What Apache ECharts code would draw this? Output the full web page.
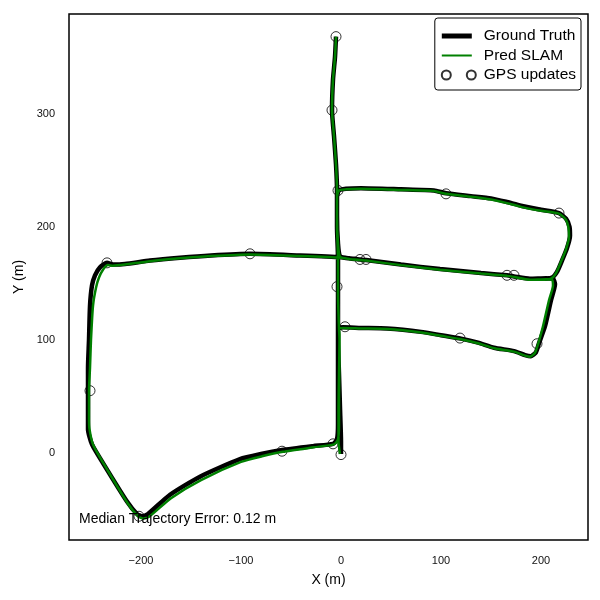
<!DOCTYPE html>
<html>
<head>
<meta charset="utf-8">
<script src="https://cdn.jsdelivr.net/npm/echarts@6/dist/echarts.min.js"></script>
<style>
  body { margin: 0; background: #fff; }
  #main { width: 600px; height: 600px; }
</style>
</head>
<body>
<div id="main"></div>
<script>
  // trajectory data, metres [x, y]
  var groundTruth = [
    [0,-1],[0,10],[-1,40],[-2,70],[-3,100],[-3,110],[-3,140],[-3,172],[-4,200],[-4,226],
    [-2,232],[5,233.5],[20,234],[60,233],[93,232],[105,229.5],[130,227],[150,225],[165,222],[180,218.5],
    [200,215],[218,212],[225,207],[228.5,200],[229,192],[226,181],[221,170],[216,160],[211,155],
    [200,154],[189,154],[173,156],[166,157],[140,159],[99,162.5],[60,166.5],[25,170.5],[19,171],[8,172],[0,173],
    [-41,174.5],[-91,176],[-130,174.5],[-161,172.5],[-191,170],[-216,167],[-228,166.5],[-234,168],[-241,164],
    [-246,157],[-249,148],[-251,130],[-252,100],[-253,75],[-253,55],[-253,30],[-253,21],[-249,7.5],[-238,-9],
    [-214,-43],[-204,-54],[-199,-56],[-193,-54],[-171,-37],[-141,-21],[-101,-5.5],[-80,-1],[-59,2.5],[-28,6],
    [-8,8],[-4,12],[-3,25],[-3,50],[-3,80],[-3,105],
    [-3,110],[2,111],[20,110.5],[46,110],[80,107],[100,104],[120,101],[137,97.5],[153,93],[173,90],
    [184,86.5],[190,85.5],[195,89],[198,97],[204,112],[210,135],[214,149],[212,154],[205,154.5],
    [189,154],[173,156],[166,157],[140,159],[99,162.5],[60,166.5],[25,170.5],[19,171],[8,172],[-1,174],
    [-3,185],[-4,210],[-4,232],[-5,255],[-7,280],[-9,303],[-8,330],[-6,350],[-5,368]
  ];

  var predSlam = [
    [-1,-1],[-2.5,10],[-2.5,40],[-2,70],[-1.5,100],[-2,110],[-3,140],[-3,172],[-4,200],[-4,226],
    [-2,232],[5,233],[20,233.5],[60,232.5],[93,231.5],[105,229],[130,226.5],[150,224],[165,221],[180,217.5],
    [200,214],[218,211.5],[225,206],[227.5,199],[228,191],[225,180],[220,169],[215,159],[210,154],
    [200,153],[189,153],[173,155.5],[166,156.5],[140,158.5],[99,162],[60,166],[25,170],[19,170.5],[8,171.5],[0,172.5],
    [-41,174],[-91,175.5],[-130,174],[-161,172],[-191,169.5],[-216,166.5],[-228,165.5],[-233,166],[-238,162],
    [-242,155],[-245,146],[-248,130],[-250,100],[-251,75],[-252,55],[-252,30],[-251.5,21],[-248,7.5],[-237,-10],
    [-213,-45],[-203,-56],[-198,-58],[-192,-56.5],[-170,-40],[-140,-24],[-100,-8],[-79,-3],[-58,1],[-27,5],
    [-7,7.5],[-3,12],[-2,25],[-2,50],[-1.5,80],[-1.5,105],
    [-2,110],[2,110.5],[20,110],[46,109.5],[80,106.5],[100,103.5],[120,100.5],[137,97],[153,92.5],[173,89.5],
    [184,86],[189,85],[194,88.5],[197,96],[202,112],[208,135],[212,148],[211,153],[205,153.5],
    [189,153],[173,155.5],[166,156.5],[140,158.5],[99,162],[60,166],[25,170],[19,170.5],[8,171.5],[-1,173.5],
    [-3,185],[-4,210],[-4,232],[-5,255],[-7,280],[-9,303],[-8,330],[-6,350],[-5,368]
  ];

  var gpsUpdates = [
    [-5,368],[-9,303],[-3,232],[105,229],[218,212],[19,171],[25,171],[166,157],[173,157],[-91,176],
    [-234,168],[-4,147],[4,111.5],[119,101.5],[196,96.5],[-251,55],[-8,8],[-59,1.5],[0,-1.5],[-202,-56]
  ];

  var xTicks = [-200, -100, 0, 100, 200];
  var yTicks = [0, 100, 200, 300];
  var errorText = 'Median Trajectory Error: 0.12 m';

  var font = 'Liberation Sans, Arial, sans-serif';

  function tickLabel(list) {
    return function (v) {
      if (list.indexOf(v) < 0) return '';
      return String(v).replace('-', '\u2212');
    };
  }

  // bare moveTo points stretch the icon box to 37x9 without drawing anything
  var gtIcon = 'path://M0,0M37,9M0,2h30v5h-30z';
  var predIcon = 'path://M0,0M37,9M0,3.5h30v2h-30z';
  var gpsIcon = 'path://M0,0M37,9M0,4.5a4.5,4.5 0 1,0 9,0a4.5,4.5 0 1,0 -9,0M25,4.5a4.5,4.5 0 1,0 9,0a4.5,4.5 0 1,0 -9,0';

  var myChart = echarts.init(document.getElementById('main'));
  myChart.setOption({
    animation: false,
    textStyle: {fontFamily: font},
    grid: {
      left: 69,
      right: 12,
      top: 14,
      bottom: 60,
      show: true,
      borderColor: '#000',
      borderWidth: 1.5,
      backgroundColor: '#fff'
    },
    legend: {
      orient: 'vertical',
      right: 19,
      top: 18,
      padding: [10, 5, 7, 6],
      itemGap: 3.5,
      itemWidth: 37,
      itemHeight: 9,
      borderColor: '#000',
      borderWidth: 1,
      borderRadius: 3,
      backgroundColor: '#fff',
      textStyle: {fontSize: 15.5, color: '#000', fontFamily: font},
      data: [
        {name: 'Ground Truth', icon: gtIcon, itemStyle: {color: '#000', borderWidth: 0}},
        {name: 'Pred SLAM', icon: predIcon, itemStyle: {color: '#008000', borderWidth: 0}},
        {name: 'GPS updates', icon: gpsIcon}
      ]
    },
    xAxis: {
      type: 'value',
      min: -272,
      max: 247,
      splitLine: {show: false},
      axisTick: {show: false},
      axisLine: {show: false},
      axisLabel: {
        formatter: tickLabel(xTicks),
        fontSize: 11,
        color: '#111',
        margin: 15,
        showMinLabel: false,
        showMaxLabel: false
      },
      name: 'X (m)',
      nameLocation: 'middle',
      nameGap: 33,
      nameTextStyle: {fontSize: 14, color: '#000'}
    },
    yAxis: {
      type: 'value',
      min: -77,
      max: 388,
      splitLine: {show: false},
      axisTick: {show: false},
      axisLine: {show: false},
      axisLabel: {
        formatter: tickLabel(yTicks),
        fontSize: 11,
        color: '#111',
        margin: 14,
        showMinLabel: false,
        showMaxLabel: false
      },
      name: 'Y (m)',
      nameLocation: 'middle',
      nameGap: 38,
      nameTextStyle: {fontSize: 14, color: '#000'}
    },
    graphic: [{
      type: 'text',
      left: 79,
      top: 512,
      z: 100,
      style: {text: errorText, fontSize: 14, fill: '#000', font: '14px ' + font}
    }],
    series: [
      {
        name: 'Ground Truth',
        type: 'line',
        data: groundTruth,
        symbol: 'none',
        smooth: 0.2,
        color: '#000',
        lineStyle: {color: '#000', width: 4.5}
      },
      {
        name: 'Pred SLAM',
        type: 'line',
        data: predSlam,
        symbol: 'none',
        smooth: 0.2,
        color: '#008000',
        lineStyle: {color: '#008000', width: 2.5}
      },
      {
        name: 'GPS updates',
        type: 'scatter',
        data: gpsUpdates,
        symbol: 'circle',
        symbolSize: 10,
        itemStyle: {color: 'rgba(0,0,0,0)', borderColor: '#000', borderWidth: 1}
      }
    ]
  });
</script>
</body>
</html>
